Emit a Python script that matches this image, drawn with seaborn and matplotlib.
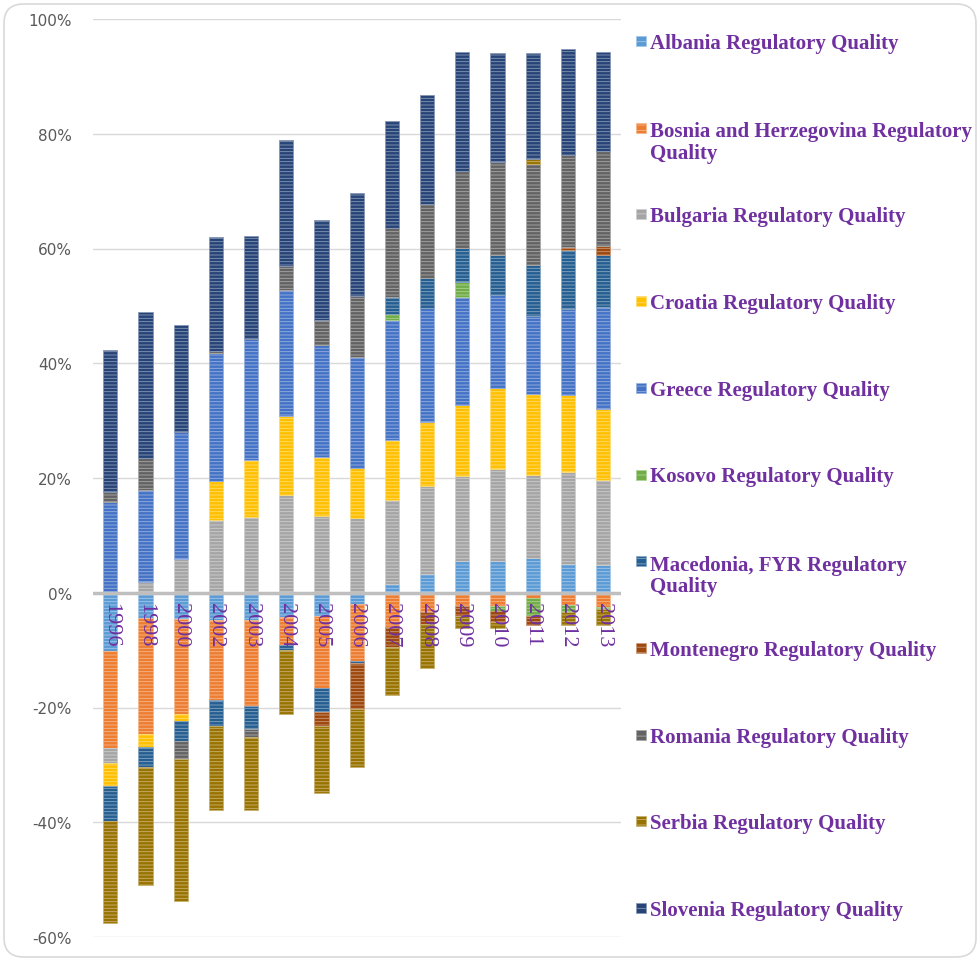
import numpy as np
import pandas as pd
import matplotlib
matplotlib.use("Agg")
import matplotlib.pyplot as plt
import seaborn as sns
from matplotlib.patches import FancyBboxPatch, Rectangle
from matplotlib.ticker import FuncFormatter
from matplotlib.colors import to_rgb

# Data (percent)
years = ["1996", "1998", "2000", "2002", "2003", "2004", "2005", "2006",
         "2007", "2008", "2009", "2010", "2011", "2012", "2013"]

albania = [-10.1, -4.4, -4.5, -4.7, -4.7, -4.2, -4.1, -2.0, 1.6, 3.2, 5.5, 5.6, 6.1, 5.0, 4.9]
bosnia = [-16.9, -20.2, -16.6, -14.0, -15.1, -4.9, -12.5, -9.9, -6.0, -3.3, -2.3, -2.3, -1.0, -2.2, -2.4]
bulgaria = [-2.7, 1.9, 5.8, 12.7, 13.2, 17.1, 13.4, 13.0, 14.6, 15.4, 14.8, 16.0, 14.5, 16.1, 14.7]
croatia = [-4.0, -2.2, -1.2, 6.7, 9.9, 13.7, 10.2, 8.7, 10.5, 11.2, 12.5, 14.0, 14.0, 13.3, 12.5]
greece = [15.8, 16.0, 22.2, 22.3, 21.1, 22.0, 19.5, 19.4, 20.9, 19.9, 18.7, 16.3, 13.7, 15.0, 17.7]
kosovo = [0, 0, 0, 0, 0, 0, 0, 0, 1.0, 0, 2.6, -0.8, -3.0, -1.2, -0.5]
macedonia = [-6.0, -3.6, -3.5, -4.5, -4.0, -0.9, -4.1, -0.4, 3.0, 5.1, 6.0, 7.0, 8.9, 10.4, 9.1]
montenegro = [0, 0, 0, 0, 0, 0, -2.6, -8.0, -3.5, -2.2, -1.8, -2.0, -1.6, 0.5, 1.6]
romania = [1.7, 5.5, -3.2, 0.4, -1.4, 4.1, 4.5, 10.7, 12.0, 13.0, 13.4, 16.2, 17.6, 16.0, 16.5]
serbia = [-17.9, -20.5, -24.7, -14.7, -12.6, -11.2, -11.6, -10.0, -8.3, -7.6, -2.0, -1.1, 0.8, -2.2, -2.7]
slovenia = [24.8, 25.5, 18.6, 19.9, 18.0, 22.0, 17.3, 17.8, 18.7, 18.9, 20.8, 18.9, 18.4, 18.4, 17.3]

labels = ["Albania Regulatory Quality",
          "Bosnia and Herzegovina Regulatory\nQuality",
          "Bulgaria Regulatory Quality",
          "Croatia Regulatory Quality",
          "Greece Regulatory Quality",
          "Kosovo Regulatory Quality",
          "Macedonia, FYR Regulatory\nQuality",
          "Montenegro Regulatory Quality",
          "Romania Regulatory Quality",
          "Serbia Regulatory Quality",
          "Slovenia Regulatory Quality"]
series = [albania, bosnia, bulgaria, croatia, greece, kosovo,
          macedonia, montenegro, romania, serbia, slovenia]
colors = ["#5B9BD5", "#ED7D31", "#A5A5A5", "#FFC000", "#4472C4", "#70AD47",
          "#255E91", "#9E480E", "#636363", "#997300", "#264478"]

purple = "#7030A0"


def lighten(c, amt=0.45):
    r = np.array(to_rgb(c))
    return tuple(r + (1 - r) * amt)


sns.set_theme(style="white")
plt.rcParams["hatch.linewidth"] = 0.6

fig = plt.figure(figsize=(9.8, 9.62), dpi=100)
ax = fig.add_axes([92.7 / 980, 1 - 938 / 962, 528 / 980, 918 / 962])

# Stacked bars, positives up from zero and negatives down from zero
pos_base = np.zeros(len(years))
neg_base = np.zeros(len(years))
for vals, col in zip(series, colors):
    vals = np.array(vals, dtype=float)
    bottom = np.where(vals >= 0, pos_base, neg_base)
    df = pd.DataFrame({"Year": years, "Value": vals})
    sns.barplot(data=df, x="Year", y="Value", order=years, color=col,
                saturation=1, width=0.4, errorbar=None, bottom=bottom,
                edgecolor=lighten(col), linewidth=0.6, hatch="-----", ax=ax)
    pos_base += np.clip(vals, 0, None)
    neg_base += np.clip(vals, None, 0)

ax.set_ylim(-60, 100)
ax.set_xlim(-0.5, len(years) - 0.5)
ax.set_yticks(range(-60, 101, 20))
ax.yaxis.set_major_formatter(FuncFormatter(lambda v, p: f"{v:.0f}%"))
ax.grid(axis="y", color="#D9D9D9", lw=1)
ax.set_axisbelow(True)
ax.set_xlabel("")
ax.set_ylabel("")
for s in ["left", "right", "top", "bottom"]:
    ax.spines[s].set_visible(False)
ax.axhline(0, color="#BFBFBF", lw=2.5, zorder=3)
ax.tick_params(axis="y", length=0, pad=15, labelsize=11, labelcolor="#595959")
ax.tick_params(axis="x", length=0, labelbottom=False)

# Year labels sit on the zero line, drawn over the bars
for i, yr in enumerate(years):
    ax.annotate(yr, (i, 0), xytext=(0, -7), textcoords="offset points",
                rotation=-90, ha="center", va="top", fontsize=16,
                family="Liberation Serif", color=purple, zorder=5)

# Legend on the right, one slot per series
for i, (lab, col) in enumerate(zip(labels, colors)):
    yc = 42 + i * 86.7
    extra = lab.count("\n") * 23
    fig.patches.append(Rectangle((636 / 980, 1 - (yc + 5) / 962), 10 / 980, 10 / 962,
                                 transform=fig.transFigure, facecolor=col,
                                 edgecolor=lighten(col), hatch="---", lw=0.5))
    fig.text(650 / 980, 1 - (yc + 7 + extra) / 962, lab, ha="left", va="baseline",
             fontsize=15, fontweight="bold", family="Liberation Serif",
             color=purple, linespacing=1.1)

# Rounded chart frame
fig.patches.append(FancyBboxPatch((4 / 980, 4 / 962), 972 / 980, 953 / 962,
                                  boxstyle="round,pad=0,rounding_size=0.02",
                                  transform=fig.transFigure, facecolor="none",
                                  edgecolor="#D9D9D9", lw=1.2))

fig.savefig("out.png", dpi=100)
